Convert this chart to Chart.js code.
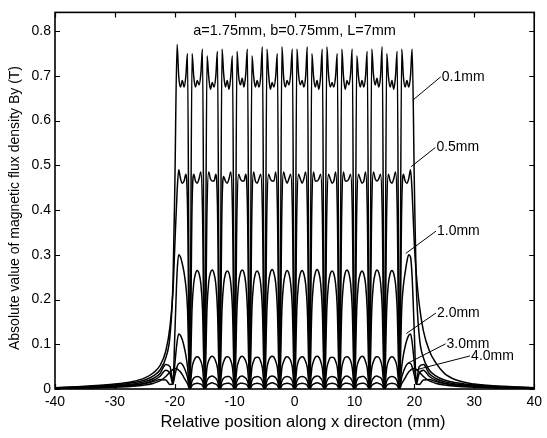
<!DOCTYPE html>
<html>
<head>
<meta charset="utf-8">
<script src="https://cdn.jsdelivr.net/npm/chart.js@4.4.1/dist/chart.umd.min.js"></script>
<style>
  html, body { margin: 0; padding: 0; background: #fff; }
</style>
</head>
<body>
<canvas id="graph" width="547" height="438"></canvas>
<script>
// x positions (mm): left tail, 16 poles (gap centre, edge, ..., edge), right tail
const posX = [
  -40, -35, -30, -27, -25, -23.5, -22.5, -21.5, -20.8, -20.3,
  -20, -19.62, -19.35, -19.05, -18.75, -18.45, -18.15, -17.88,
  -17.5, -17.12, -16.85, -16.55, -16.25, -15.95, -15.65, -15.38,
  -15, -14.62, -14.35, -14.05, -13.75, -13.45, -13.15, -12.88,
  -12.5, -12.12, -11.85, -11.55, -11.25, -10.95, -10.65, -10.38,
  -10, -9.62, -9.35, -9.05, -8.75, -8.45, -8.15, -7.88,
  -7.5, -7.12, -6.85, -6.55, -6.25, -5.95, -5.65, -5.38,
  -5, -4.62, -4.35, -4.05, -3.75, -3.45, -3.15, -2.88,
  -2.5, -2.12, -1.85, -1.55, -1.25, -0.95, -0.65, -0.38,
  0, 0.38, 0.65, 0.95, 1.25, 1.55, 1.85, 2.12,
  2.5, 2.88, 3.15, 3.45, 3.75, 4.05, 4.35, 4.62,
  5, 5.38, 5.65, 5.95, 6.25, 6.55, 6.85, 7.12,
  7.5, 7.88, 8.15, 8.45, 8.75, 9.05, 9.35, 9.62,
  10, 10.38, 10.65, 10.95, 11.25, 11.55, 11.85, 12.12,
  12.5, 12.88, 13.15, 13.45, 13.75, 14.05, 14.35, 14.62,
  15, 15.38, 15.65, 15.95, 16.25, 16.55, 16.85, 17.12,
  17.5, 17.88, 18.15, 18.45, 18.75, 19.05, 19.35, 19.62,
  20, 20.3, 20.8, 21.5, 22.5, 23.5, 25, 27, 30, 35, 40
];

// |By| (T) for each gap
const gap01 = [
  0.003, 0.005, 0.009, 0.014, 0.02, 0.03, 0.042, 0.07, 0.12, 0.24,
  0.45, 0.77, 0.70, 0.675, 0.69, 0.675, 0.70, 0.75,
  0, 0.75, 0.70, 0.675, 0.69, 0.68, 0.705, 0.76,
  0, 0.745, 0.70, 0.67, 0.685, 0.675, 0.70, 0.755,
  0, 0.76, 0.705, 0.675, 0.69, 0.67, 0.70, 0.745,
  0, 0.755, 0.70, 0.68, 0.695, 0.675, 0.705, 0.76,
  0, 0.745, 0.70, 0.675, 0.69, 0.675, 0.70, 0.765,
  0, 0.76, 0.705, 0.67, 0.685, 0.675, 0.70, 0.75,
  0, 0.765, 0.70, 0.675, 0.69, 0.68, 0.705, 0.76,
  0, 0.76, 0.705, 0.68, 0.69, 0.675, 0.70, 0.765,
  0, 0.75, 0.70, 0.675, 0.69, 0.67, 0.70, 0.76,
  0, 0.765, 0.705, 0.675, 0.685, 0.675, 0.70, 0.75,
  0, 0.76, 0.70, 0.67, 0.69, 0.68, 0.705, 0.76,
  0, 0.745, 0.70, 0.675, 0.69, 0.675, 0.70, 0.755,
  0, 0.76, 0.705, 0.68, 0.695, 0.675, 0.70, 0.765,
  0, 0.75, 0.70, 0.675, 0.69, 0.67, 0.70, 0.755,
  0, 0.76, 0.70, 0.675, 0.69, 0.675, 0.70, 0.76,
  0.45, 0.24, 0.12, 0.07, 0.042, 0.03, 0.02, 0.014, 0.009, 0.005, 0.003
];
const gap05 = [
  0.003, 0.006, 0.011, 0.017, 0.025, 0.037, 0.052, 0.085, 0.14, 0.22,
  0.32, 0.44, 0.49, 0.47, 0.46, 0.465, 0.48, 0.41,
  0, 0.41, 0.48, 0.465, 0.46, 0.47, 0.485, 0.40,
  0, 0.405, 0.485, 0.47, 0.465, 0.465, 0.48, 0.41,
  0, 0.41, 0.475, 0.465, 0.46, 0.47, 0.485, 0.405,
  0, 0.40, 0.48, 0.47, 0.465, 0.465, 0.48, 0.41,
  0, 0.41, 0.485, 0.465, 0.46, 0.47, 0.48, 0.40,
  0, 0.405, 0.48, 0.47, 0.465, 0.465, 0.485, 0.41,
  0, 0.41, 0.485, 0.47, 0.46, 0.47, 0.48, 0.405,
  0, 0.405, 0.48, 0.47, 0.46, 0.47, 0.485, 0.41,
  0, 0.41, 0.485, 0.465, 0.465, 0.47, 0.48, 0.40,
  0, 0.40, 0.48, 0.47, 0.46, 0.465, 0.485, 0.41,
  0, 0.41, 0.485, 0.465, 0.465, 0.47, 0.48, 0.405,
  0, 0.405, 0.48, 0.47, 0.46, 0.465, 0.485, 0.41,
  0, 0.41, 0.485, 0.47, 0.465, 0.47, 0.48, 0.40,
  0, 0.40, 0.48, 0.465, 0.46, 0.47, 0.485, 0.41,
  0, 0.41, 0.48, 0.465, 0.46, 0.47, 0.49, 0.44,
  0.32, 0.26, 0.19, 0.13, 0.085, 0.06, 0.035, 0.02, 0.011, 0.006, 0.003
];
const gap10 = [
  0.002, 0.004, 0.007, 0.011, 0.016, 0.024, 0.034, 0.055, 0.05, 0.015,
  0.12, 0.26, 0.30, 0.295, 0.28, 0.26, 0.23, 0.18,
  0, 0.18, 0.235, 0.258, 0.265, 0.258, 0.235, 0.18,
  0, 0.182, 0.238, 0.26, 0.266, 0.258, 0.234, 0.178,
  0, 0.178, 0.234, 0.257, 0.264, 0.259, 0.236, 0.181,
  0, 0.18, 0.236, 0.259, 0.266, 0.26, 0.235, 0.18,
  0, 0.181, 0.235, 0.258, 0.264, 0.257, 0.234, 0.179,
  0, 0.179, 0.236, 0.26, 0.267, 0.259, 0.236, 0.18,
  0, 0.18, 0.234, 0.257, 0.265, 0.258, 0.235, 0.181,
  0, 0.181, 0.235, 0.258, 0.265, 0.257, 0.234, 0.18,
  0, 0.18, 0.236, 0.259, 0.267, 0.26, 0.236, 0.179,
  0, 0.179, 0.234, 0.257, 0.264, 0.258, 0.235, 0.181,
  0, 0.18, 0.235, 0.26, 0.266, 0.259, 0.236, 0.18,
  0, 0.181, 0.236, 0.257, 0.264, 0.257, 0.234, 0.178,
  0, 0.178, 0.234, 0.258, 0.266, 0.26, 0.238, 0.182,
  0, 0.18, 0.235, 0.258, 0.265, 0.258, 0.235, 0.18,
  0, 0.18, 0.23, 0.26, 0.285, 0.30, 0.295, 0.25,
  0.12, 0.015, 0.05, 0.055, 0.034, 0.024, 0.016, 0.011, 0.007, 0.004, 0.002
];
const gap20 = [
  0.002, 0.003, 0.006, 0.009, 0.013, 0.02, 0.028, 0.042, 0.035, 0.01,
  0.055, 0.105, 0.123, 0.12, 0.11, 0.095, 0.075, 0.05,
  0, 0.048, 0.062, 0.07, 0.072, 0.07, 0.062, 0.048,
  0, 0.049, 0.063, 0.071, 0.073, 0.07, 0.061, 0.047,
  0, 0.047, 0.061, 0.07, 0.072, 0.071, 0.063, 0.049,
  0, 0.048, 0.062, 0.071, 0.073, 0.07, 0.062, 0.048,
  0, 0.049, 0.062, 0.07, 0.071, 0.07, 0.061, 0.047,
  0, 0.047, 0.063, 0.071, 0.073, 0.071, 0.062, 0.048,
  0, 0.048, 0.061, 0.07, 0.072, 0.07, 0.063, 0.049,
  0, 0.049, 0.063, 0.07, 0.072, 0.07, 0.061, 0.048,
  0, 0.048, 0.062, 0.071, 0.073, 0.071, 0.062, 0.047,
  0, 0.047, 0.061, 0.07, 0.071, 0.07, 0.062, 0.049,
  0, 0.048, 0.063, 0.071, 0.072, 0.07, 0.063, 0.048,
  0, 0.049, 0.062, 0.07, 0.073, 0.071, 0.061, 0.047,
  0, 0.047, 0.061, 0.07, 0.072, 0.071, 0.063, 0.049,
  0, 0.048, 0.062, 0.07, 0.072, 0.07, 0.062, 0.048,
  0, 0.05, 0.075, 0.095, 0.11, 0.12, 0.123, 0.105,
  0.055, 0.01, 0.035, 0.042, 0.028, 0.02, 0.013, 0.009, 0.006, 0.003, 0.002
];
const gap30 = [
  0.001, 0.003, 0.005, 0.008, 0.012, 0.017, 0.021, 0.02, 0.01, 0.012,
  0.03, 0.05, 0.057, 0.058, 0.055, 0.048, 0.038, 0.026,
  0, 0.018, 0.024, 0.027, 0.028, 0.027, 0.024, 0.018,
  0, 0.019, 0.025, 0.028, 0.029, 0.027, 0.024, 0.018,
  0, 0.018, 0.024, 0.027, 0.028, 0.028, 0.025, 0.019,
  0, 0.018, 0.024, 0.028, 0.029, 0.027, 0.024, 0.018,
  0, 0.019, 0.025, 0.027, 0.028, 0.027, 0.024, 0.018,
  0, 0.018, 0.024, 0.028, 0.029, 0.028, 0.025, 0.019,
  0, 0.018, 0.024, 0.027, 0.028, 0.027, 0.024, 0.018,
  0, 0.018, 0.024, 0.027, 0.028, 0.027, 0.024, 0.018,
  0, 0.019, 0.025, 0.028, 0.029, 0.028, 0.024, 0.018,
  0, 0.018, 0.024, 0.027, 0.028, 0.027, 0.025, 0.019,
  0, 0.018, 0.024, 0.028, 0.029, 0.027, 0.024, 0.018,
  0, 0.019, 0.025, 0.027, 0.028, 0.028, 0.024, 0.018,
  0, 0.018, 0.024, 0.028, 0.029, 0.027, 0.025, 0.019,
  0, 0.018, 0.024, 0.027, 0.028, 0.027, 0.024, 0.018,
  0, 0.026, 0.038, 0.048, 0.055, 0.058, 0.057, 0.05,
  0.03, 0.012, 0.01, 0.02, 0.021, 0.017, 0.012, 0.008, 0.005, 0.003, 0.001
];
const gap40 = [
  0.001, 0.002, 0.004, 0.006, 0.009, 0.013, 0.018, 0.028, 0.038, 0.044,
  0.046, 0.045, 0.042, 0.038, 0.032, 0.025, 0.018, 0.012,
  0, 0.008, 0.011, 0.012, 0.013, 0.012, 0.011, 0.008,
  0, 0.008, 0.011, 0.013, 0.014, 0.012, 0.011, 0.008,
  0, 0.008, 0.011, 0.012, 0.013, 0.013, 0.011, 0.008,
  0, 0.008, 0.011, 0.013, 0.013, 0.012, 0.011, 0.008,
  0, 0.008, 0.011, 0.012, 0.013, 0.012, 0.011, 0.008,
  0, 0.008, 0.011, 0.013, 0.014, 0.013, 0.011, 0.008,
  0, 0.008, 0.011, 0.012, 0.013, 0.012, 0.011, 0.008,
  0, 0.008, 0.011, 0.012, 0.013, 0.012, 0.011, 0.008,
  0, 0.008, 0.011, 0.013, 0.014, 0.013, 0.011, 0.008,
  0, 0.008, 0.011, 0.012, 0.013, 0.012, 0.011, 0.008,
  0, 0.008, 0.011, 0.013, 0.013, 0.012, 0.011, 0.008,
  0, 0.008, 0.011, 0.012, 0.013, 0.013, 0.011, 0.008,
  0, 0.008, 0.011, 0.013, 0.014, 0.012, 0.011, 0.008,
  0, 0.008, 0.011, 0.012, 0.013, 0.012, 0.011, 0.008,
  0, 0.012, 0.018, 0.025, 0.032, 0.038, 0.042, 0.045,
  0.046, 0.044, 0.038, 0.028, 0.018, 0.013, 0.009, 0.006, 0.004, 0.002, 0.001
];

const seriesNames = ['0.1mm', '0.5mm', '1.0mm', '2.0mm', '3.0mm', '4.0mm'];
const seriesValues = [gap01, gap05, gap10, gap20, gap30, gap40];

// curve labels with leader lines: [text, from x, from y, to x, to y] in data units
const curveLabels = [
  ['0.1mm', 19.75, 0.646, 24.4, 0.698],
  ['0.5mm', 19.45, 0.497, 23.5, 0.540],
  ['1.0mm', 18.55, 0.303, 23.6, 0.353],
  ['2.0mm', 18.65, 0.124, 23.6, 0.170],
  ['3.0mm', 18.95, 0.058, 25.2, 0.101],
  ['4.0mm', 20.3, 0.043, 29.3, 0.074]
];
const noteText = 'a=1.75mm, b=0.75mm, L=7mm';
const yTitle = 'Absolute value of magnetic flux density By (T)';
const xTitle = 'Relative position along x directon (mm)';

const FONT = "'Liberation Sans', Arial, sans-serif";

const frame = {
  id: 'frame',
  afterDatasetsDraw(chart) {
    const { ctx, chartArea: a, scales: { x, y } } = chart;
    ctx.save();
    ctx.strokeStyle = '#000';
    ctx.lineWidth = 1.2;
    // inward ticks on all four sides
    ctx.beginPath();
    x.ticks.forEach(t => {
      const px = Math.round(x.getPixelForValue(t.value)) + 0.5;
      ctx.moveTo(px, a.bottom); ctx.lineTo(px, a.bottom - 5);
      ctx.moveTo(px, a.top); ctx.lineTo(px, a.top + 5);
    });
    y.ticks.forEach(t => {
      const py = Math.round(y.getPixelForValue(t.value)) + 0.5;
      ctx.moveTo(a.left, py); ctx.lineTo(a.left + 5, py);
      ctx.moveTo(a.right, py); ctx.lineTo(a.right - 5, py);
    });
    ctx.stroke();
    ctx.lineWidth = 1.6;
    ctx.strokeRect(a.left, a.top, a.right - a.left, a.bottom - a.top);

    // leader lines and curve labels
    ctx.lineWidth = 1;
    ctx.fillStyle = '#000';
    ctx.font = '14px ' + FONT;
    ctx.textBaseline = 'middle';
    ctx.textAlign = 'left';
    curveLabels.forEach(([txt, x0, y0, x1, y1]) => {
      ctx.beginPath();
      ctx.moveTo(x.getPixelForValue(x0), y.getPixelForValue(y0));
      ctx.lineTo(x.getPixelForValue(x1), y.getPixelForValue(y1));
      ctx.stroke();
      ctx.fillText(txt, x.getPixelForValue(x1) + 1, y.getPixelForValue(y1));
    });
    ctx.font = '14.5px ' + FONT;
    ctx.textAlign = 'center';
    ctx.fillText(noteText, x.getPixelForValue(0), y.getPixelForValue(0.8));

    // axis titles
    ctx.font = '16.5px ' + FONT;
    ctx.fillText(xTitle, 303, 422);
    ctx.font = '14px ' + FONT;
    ctx.translate(15, 208);
    ctx.rotate(-Math.PI / 2);
    ctx.fillText(yTitle, 0, 0);
    ctx.restore();
  }
};

new Chart(document.getElementById('graph'), {
  type: 'line',
  data: {
    datasets: seriesValues.map((vals, i) => ({
      label: seriesNames[i],
      data: posX.map((px, j) => ({ x: px, y: vals[j] })),
      borderColor: '#000',
      borderWidth: 1.5,
      pointRadius: 0,
      cubicInterpolationMode: 'monotone',
      fill: false
    }))
  },
  options: {
    responsive: false,
    animation: false,
    layout: { padding: { top: 5, right: 0, left: 0, bottom: 0 } },
    plugins: { legend: { display: false }, tooltip: { enabled: false } },
    scales: {
      x: {
        type: 'linear',
        min: -40, max: 40,
        grid: { display: false, drawTicks: false },
        border: { display: false },
        ticks: { stepSize: 10, color: '#000', padding: 5, maxRotation: 0, font: { family: FONT, size: 14 } },
        afterFit: s => { s.height = 49; }
      },
      y: {
        min: 0, max: 0.842,
        grid: { display: false, drawTicks: false },
        border: { display: false },
        ticks: { stepSize: 0.1, color: '#000', padding: 4, font: { family: FONT, size: 14 } },
        afterBuildTicks: s => {
          s.ticks = s.ticks.filter(t => Math.abs(t.value * 10 - Math.round(t.value * 10)) < 1e-6);
        },
        afterFit: s => { s.width = 55; }
      }
    }
  },
  plugins: [frame]
});
</script>
</body>
</html>
